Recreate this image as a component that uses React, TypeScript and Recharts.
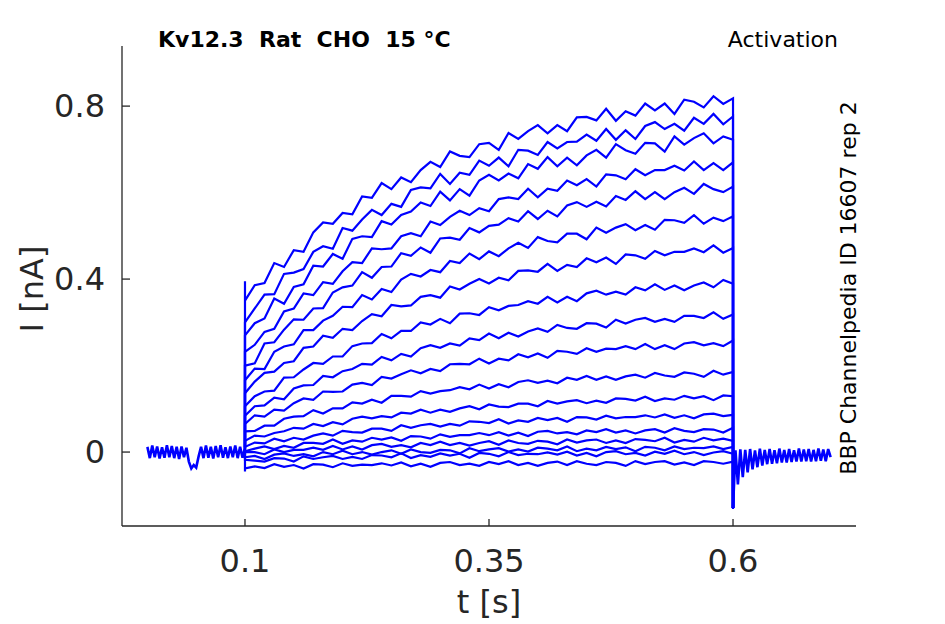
import { LineChart, Line, XAxis, YAxis } from "recharts";

// time bases (s)
const PRE_T = [0, 0.0025, 0.005, 0.0075, 0.01, 0.0125, 0.015, 0.0175, 0.02, 0.0225, 0.025, 0.0275, 0.03, 0.0325, 0.035, 0.0375, 0.04, 0.0425, 0.045, 0.0475, 0.05, 0.0525, 0.055, 0.0575, 0.06, 0.0625, 0.065, 0.0675, 0.07, 0.0725, 0.075, 0.0775, 0.08, 0.0825, 0.085, 0.0875, 0.09, 0.0925, 0.095, 0.0975, 0.1];
const PULSE_T = [0.1, 0.11, 0.12, 0.13, 0.14, 0.15, 0.16, 0.17, 0.18, 0.19, 0.2, 0.21, 0.22, 0.23, 0.24, 0.25, 0.26, 0.27, 0.28, 0.29, 0.3, 0.31, 0.32, 0.33, 0.34, 0.35, 0.36, 0.37, 0.38, 0.39, 0.4, 0.41, 0.42, 0.43, 0.44, 0.45, 0.46, 0.47, 0.48, 0.49, 0.5, 0.51, 0.52, 0.53, 0.54, 0.55, 0.56, 0.57, 0.58, 0.59, 0.6];
const POST_T = [0.6, 0.6025, 0.605, 0.6075, 0.61, 0.6125, 0.615, 0.6175, 0.62, 0.6225, 0.625, 0.6275, 0.63, 0.6325, 0.635, 0.6375, 0.64, 0.6425, 0.645, 0.6475, 0.65, 0.6525, 0.655, 0.6575, 0.66, 0.6625, 0.665, 0.6675, 0.67, 0.6725, 0.675, 0.6775, 0.68, 0.6825, 0.685, 0.6875, 0.69, 0.6925, 0.695, 0.6975, 0.7];

// holding current before the step (all sweeps overlap), nA
const PRE_I = [0.012, -0.014, 0.015, -0.012, 0.013, -0.015, 0.011, -0.013, 0.016, -0.012, 0.014, -0.014, 0.012, -0.016, 0.013, -0.012, 0.01, -0.022, -0.038, -0.03, -0.036, -0.01, 0.012, -0.014, 0.015, -0.013, 0.012, -0.015, 0.014, -0.012, 0.016, -0.013, 0.011, -0.014, 0.013, -0.012, 0.015, -0.014, 0.012, -0.013, 0.01];

// tail current after the step, nA
const POST_I = [-0.13, 0.004, -0.075, 0.006, -0.058, 0.005, -0.047, 0.007, -0.04, 0.004, -0.035, 0.008, -0.031, 0.005, -0.028, 0.007, -0.027, 0.004, -0.026, 0.008, -0.024, 0.005, -0.024, 0.007, -0.023, 0.004, -0.022, 0.008, -0.022, 0.006, -0.021, 0.007, -0.022, 0.005, -0.021, 0.008, -0.02, 0.006, -0.021, 0.007, -0.012];

// capacitive transients at step onset
const ONSET_PEAK = 0.395;
const ONSET_DIP = -0.045;

// sweeps during the step, largest first, nA
const SWEEP_1 = [0.35, 0.386, 0.391, 0.437, 0.428, 0.467, 0.463, 0.508, 0.531, 0.528, 0.553, 0.55, 0.591, 0.588, 0.622, 0.608, 0.635, 0.624, 0.652, 0.671, 0.659, 0.695, 0.685, 0.682, 0.712, 0.715, 0.699, 0.738, 0.724, 0.742, 0.756, 0.737, 0.756, 0.742, 0.774, 0.775, 0.767, 0.794, 0.766, 0.788, 0.778, 0.806, 0.79, 0.806, 0.782, 0.815, 0.81, 0.797, 0.823, 0.805, 0.818];
const SWEEP_2 = [0.3, 0.332, 0.364, 0.365, 0.412, 0.415, 0.423, 0.463, 0.476, 0.47, 0.518, 0.512, 0.538, 0.56, 0.548, 0.574, 0.567, 0.606, 0.612, 0.61, 0.643, 0.62, 0.646, 0.641, 0.674, 0.662, 0.681, 0.661, 0.699, 0.697, 0.687, 0.717, 0.702, 0.717, 0.718, 0.734, 0.72, 0.747, 0.722, 0.744, 0.724, 0.754, 0.763, 0.747, 0.759, 0.743, 0.773, 0.759, 0.782, 0.758, 0.776];
const SWEEP_3 = [0.27, 0.298, 0.309, 0.355, 0.343, 0.382, 0.388, 0.431, 0.429, 0.458, 0.447, 0.493, 0.499, 0.497, 0.534, 0.526, 0.548, 0.556, 0.577, 0.569, 0.602, 0.582, 0.608, 0.593, 0.628, 0.641, 0.628, 0.644, 0.633, 0.666, 0.655, 0.682, 0.661, 0.681, 0.663, 0.686, 0.699, 0.681, 0.712, 0.698, 0.69, 0.715, 0.714, 0.695, 0.73, 0.711, 0.726, 0.737, 0.714, 0.73, 0.722];
const SWEEP_4 = [0.232, 0.248, 0.278, 0.285, 0.325, 0.332, 0.367, 0.363, 0.393, 0.389, 0.418, 0.439, 0.437, 0.471, 0.469, 0.471, 0.499, 0.506, 0.499, 0.533, 0.525, 0.544, 0.558, 0.548, 0.564, 0.557, 0.585, 0.589, 0.585, 0.609, 0.589, 0.609, 0.604, 0.628, 0.617, 0.631, 0.614, 0.642, 0.64, 0.631, 0.654, 0.64, 0.652, 0.652, 0.662, 0.651, 0.672, 0.652, 0.668, 0.652, 0.67];
const SWEEP_5 = [0.2, 0.205, 0.251, 0.254, 0.283, 0.307, 0.306, 0.332, 0.333, 0.369, 0.381, 0.385, 0.416, 0.403, 0.428, 0.429, 0.46, 0.454, 0.473, 0.461, 0.494, 0.496, 0.491, 0.518, 0.508, 0.523, 0.526, 0.541, 0.533, 0.557, 0.539, 0.558, 0.545, 0.57, 0.578, 0.567, 0.579, 0.568, 0.592, 0.583, 0.603, 0.585, 0.601, 0.585, 0.601, 0.611, 0.597, 0.62, 0.608, 0.601, 0.614];
const SWEEP_6 = [0.166, 0.193, 0.192, 0.232, 0.244, 0.249, 0.282, 0.282, 0.304, 0.315, 0.336, 0.335, 0.363, 0.353, 0.377, 0.37, 0.399, 0.412, 0.406, 0.421, 0.416, 0.442, 0.437, 0.459, 0.446, 0.464, 0.453, 0.471, 0.484, 0.472, 0.497, 0.488, 0.485, 0.505, 0.505, 0.492, 0.519, 0.507, 0.519, 0.527, 0.513, 0.525, 0.514, 0.537, 0.536, 0.53, 0.548, 0.528, 0.542, 0.534, 0.545];
const SWEEP_7 = [0.136, 0.163, 0.183, 0.186, 0.206, 0.21, 0.241, 0.244, 0.269, 0.264, 0.285, 0.282, 0.303, 0.319, 0.314, 0.34, 0.337, 0.339, 0.359, 0.363, 0.357, 0.383, 0.376, 0.389, 0.4, 0.39, 0.403, 0.397, 0.419, 0.42, 0.417, 0.435, 0.419, 0.433, 0.428, 0.448, 0.439, 0.45, 0.435, 0.457, 0.455, 0.447, 0.465, 0.455, 0.463, 0.463, 0.471, 0.462, 0.478, 0.461, 0.472];
const SWEEP_8 = [0.106, 0.129, 0.14, 0.142, 0.172, 0.173, 0.191, 0.206, 0.204, 0.221, 0.221, 0.245, 0.251, 0.252, 0.273, 0.263, 0.28, 0.28, 0.3, 0.295, 0.308, 0.298, 0.32, 0.321, 0.317, 0.335, 0.328, 0.338, 0.34, 0.349, 0.343, 0.359, 0.346, 0.359, 0.349, 0.367, 0.373, 0.364, 0.371, 0.364, 0.381, 0.374, 0.388, 0.375, 0.385, 0.374, 0.385, 0.392, 0.381, 0.398, 0.389];
const SWEEP_9 = [0.084, 0.106, 0.108, 0.126, 0.122, 0.147, 0.154, 0.155, 0.176, 0.173, 0.187, 0.192, 0.204, 0.202, 0.22, 0.212, 0.227, 0.221, 0.24, 0.247, 0.241, 0.251, 0.246, 0.263, 0.259, 0.274, 0.263, 0.276, 0.267, 0.279, 0.286, 0.278, 0.294, 0.287, 0.285, 0.298, 0.297, 0.288, 0.306, 0.297, 0.306, 0.31, 0.301, 0.308, 0.301, 0.315, 0.315, 0.31, 0.323, 0.308, 0.318];
const SWEEP_10 = [0.065, 0.085, 0.082, 0.098, 0.096, 0.113, 0.124, 0.121, 0.14, 0.139, 0.14, 0.156, 0.16, 0.155, 0.174, 0.17, 0.18, 0.189, 0.182, 0.192, 0.187, 0.203, 0.204, 0.203, 0.216, 0.205, 0.216, 0.212, 0.226, 0.219, 0.228, 0.218, 0.234, 0.232, 0.227, 0.24, 0.232, 0.239, 0.238, 0.245, 0.238, 0.25, 0.238, 0.247, 0.238, 0.251, 0.254, 0.247, 0.252, 0.245, 0.258];
const SWEEP_11 = [0.048, 0.049, 0.061, 0.061, 0.077, 0.082, 0.083, 0.097, 0.089, 0.101, 0.101, 0.115, 0.112, 0.121, 0.114, 0.13, 0.13, 0.128, 0.141, 0.135, 0.141, 0.143, 0.15, 0.145, 0.156, 0.147, 0.157, 0.15, 0.162, 0.166, 0.16, 0.165, 0.159, 0.172, 0.167, 0.176, 0.167, 0.175, 0.167, 0.175, 0.179, 0.172, 0.183, 0.177, 0.174, 0.184, 0.181, 0.174, 0.188, 0.179, 0.185];
const SWEEP_12 = [0.026, 0.038, 0.036, 0.044, 0.048, 0.056, 0.054, 0.065, 0.06, 0.069, 0.064, 0.077, 0.082, 0.078, 0.083, 0.08, 0.091, 0.089, 0.098, 0.091, 0.098, 0.093, 0.101, 0.106, 0.099, 0.11, 0.105, 0.104, 0.112, 0.112, 0.106, 0.118, 0.112, 0.117, 0.12, 0.113, 0.119, 0.114, 0.124, 0.123, 0.119, 0.128, 0.118, 0.124, 0.121, 0.13, 0.124, 0.129, 0.12, 0.131, 0.129];
const SWEEP_13 = [0.012, 0.022, 0.02, 0.031, 0.025, 0.033, 0.029, 0.038, 0.043, 0.038, 0.049, 0.046, 0.045, 0.054, 0.054, 0.049, 0.062, 0.056, 0.062, 0.065, 0.059, 0.065, 0.061, 0.071, 0.07, 0.067, 0.076, 0.066, 0.073, 0.07, 0.079, 0.074, 0.079, 0.07, 0.081, 0.08, 0.075, 0.084, 0.078, 0.081, 0.081, 0.085, 0.08, 0.087, 0.079, 0.085, 0.078, 0.087, 0.089, 0.083, 0.086];
const SWEEP_14 = [0.002, 0.008, 0.013, 0.007, 0.014, 0.01, 0.021, 0.021, 0.019, 0.029, 0.019, 0.027, 0.024, 0.033, 0.029, 0.034, 0.026, 0.037, 0.036, 0.031, 0.041, 0.035, 0.039, 0.039, 0.044, 0.039, 0.046, 0.038, 0.045, 0.037, 0.047, 0.049, 0.043, 0.046, 0.041, 0.05, 0.046, 0.053, 0.045, 0.05, 0.043, 0.05, 0.053, 0.045, 0.055, 0.049, 0.046, 0.053, 0.052, 0.045, 0.056];
const SWEEP_15 = [0.0, 0.0, -0.005, 0.006, 0.0, 0.005, 0.005, 0.01, 0.005, 0.014, 0.006, 0.013, 0.006, 0.016, 0.019, 0.012, 0.016, 0.011, 0.021, 0.016, 0.024, 0.016, 0.021, 0.015, 0.021, 0.025, 0.017, 0.027, 0.021, 0.019, 0.026, 0.024, 0.018, 0.029, 0.022, 0.027, 0.029, 0.021, 0.027, 0.021, 0.03, 0.028, 0.025, 0.033, 0.022, 0.028, 0.024, 0.033, 0.027, 0.031, 0.026];
const SWEEP_16 = [-0.012, -0.009, -0.016, -0.006, -0.003, -0.009, -0.005, -0.01, 0.0, -0.005, 0.003, -0.005, 0.0, -0.006, 0.0, 0.004, -0.004, 0.006, 0.0, -0.002, 0.005, 0.004, -0.003, 0.009, 0.002, 0.006, 0.009, 0.001, 0.006, 0.001, 0.01, 0.008, 0.004, 0.013, 0.002, 0.008, 0.004, 0.012, 0.007, 0.011, 0.002, 0.012, 0.01, 0.004, 0.013, 0.007, 0.01, 0.009, 0.013, 0.007, 0.012];
const SWEEP_17 = [-0.018, -0.02, -0.022, -0.014, -0.015, -0.022, -0.01, -0.016, -0.012, -0.009, -0.016, -0.011, -0.016, -0.007, -0.008, -0.012, -0.003, -0.014, -0.007, -0.011, -0.003, -0.008, -0.004, -0.013, -0.002, -0.004, -0.01, 0.0, -0.007, -0.004, -0.005, -0.001, -0.006, 0.001, -0.008, -0.002, -0.01, 0.0, 0.002, -0.005, -0.002, -0.008, 0.001, -0.004, 0.003, -0.005, 0.0, -0.007, -0.001, 0.002, -0.004];
const SWEEP_18 = [-0.038, -0.033, -0.037, -0.028, -0.034, -0.03, -0.038, -0.028, -0.029, -0.035, -0.026, -0.032, -0.029, -0.03, -0.026, -0.031, -0.024, -0.033, -0.027, -0.034, -0.025, -0.023, -0.03, -0.027, -0.032, -0.023, -0.028, -0.021, -0.03, -0.025, -0.032, -0.025, -0.022, -0.03, -0.021, -0.027, -0.03, -0.023, -0.025, -0.032, -0.021, -0.028, -0.023, -0.021, -0.029, -0.024, -0.03, -0.021, -0.023, -0.027, -0.022];

const SWEEPS = [SWEEP_1, SWEEP_2, SWEEP_3, SWEEP_4, SWEEP_5, SWEEP_6, SWEEP_7, SWEEP_8, SWEEP_9, SWEEP_10, SWEEP_11, SWEEP_12, SWEEP_13, SWEEP_14, SWEEP_15, SWEEP_16, SWEEP_17, SWEEP_18];

const X_TICKS = [0.1, 0.35, 0.6];
const Y_TICKS = [0, 0.4, 0.8];

const BLUE = "#0000ff";
const AXIS = "#262626";
const FONT = "DejaVu Sans";

const preData = PRE_T.map((t, i) => ({ t, v: PRE_I[i] }));
const postData = POST_T.map((t, i) => ({ t, v: POST_I[i] }));

const sweepData = SWEEPS.map((vals, k) => {
  const t0 = PULSE_T[0];
  const pts = [{ t: t0, v: PRE_I[PRE_I.length - 1] }];
  if (k === 0) pts.push({ t: t0, v: ONSET_PEAK });
  if (k === SWEEPS.length - 1) pts.push({ t: t0, v: ONSET_DIP });
  vals.slice(0, PULSE_T.length).forEach((v, i) => pts.push({ t: PULSE_T[i], v }));
  pts.push({ t: PULSE_T[PULSE_T.length - 1], v: POST_I[0] });
  return pts;
});

export default function App() {
  return (
    <div style={{ position: "absolute", left: 0, top: 0, width: 945, height: 624, background: "#fff" }}>
      {/* axes need a non-zero box, so 1px width/height with the margin reduced by the same */}
      <LineChart width={945} height={624} margin={{ top: 46, right: 89, bottom: 97, left: 121 }}>
        <XAxis
          type="number"
          dataKey="t"
          domain={[-0.026, 0.726]}
          ticks={X_TICKS}
          interval={0}
          allowDataOverflow
          height={1}
          tickSize={-7}
          tickMargin={30}
          axisLine={{ stroke: AXIS, strokeWidth: 1.3 }}
          tickLine={{ stroke: AXIS, strokeWidth: 1.3 }}
          tick={{ fill: AXIS, fontSize: 32, fontFamily: FONT }}
        />
        <YAxis
          type="number"
          domain={[-0.171, 0.939]}
          ticks={Y_TICKS}
          interval={0}
          allowDataOverflow
          width={1}
          tickSize={-8}
          tickMargin={25}
          axisLine={{ stroke: AXIS, strokeWidth: 1.3 }}
          tickLine={{ stroke: AXIS, strokeWidth: 1.3 }}
          tick={{ fill: AXIS, fontSize: 32, fontFamily: FONT }}
        />
        <Line data={preData} dataKey="v" type="linear" stroke={BLUE} strokeWidth={2.6} dot={false} activeDot={false} isAnimationActive={false} />
        {sweepData.map((d, k) => (
          <Line key={`sweep-${k}`} data={d} dataKey="v" type="linear" stroke={BLUE} strokeWidth={2.2} dot={false} activeDot={false} isAnimationActive={false} />
        ))}
        <Line data={postData} dataKey="v" type="linear" stroke={BLUE} strokeWidth={2.6} dot={false} activeDot={false} isAnimationActive={false} />
      </LineChart>
      <svg width={945} height={624} style={{ position: "absolute", left: 0, top: 0, pointerEvents: "none" }}>
        <text x={158} y={47} fontFamily={FONT} fontSize={22} fontWeight="bold" fill="#000" style={{ whiteSpace: "pre" }}>
          {"Kv12.3  Rat  CHO  15 °C"}
        </text>
        <text x={838} y={47} fontFamily={FONT} fontSize={22} fill="#000" textAnchor="end">
          Activation
        </text>
        <text x={856} y={288} fontFamily={FONT} fontSize={22} fill="#000" textAnchor="middle" transform="rotate(-90 856 288)">
          BBP Channelpedia ID 16607 rep 2
        </text>
        <text x={43} y={289} fontFamily={FONT} fontSize={32} fill={AXIS} textAnchor="middle" transform="rotate(-90 43 289)">
          I [nA]
        </text>
        <text x={489} y={613} fontFamily={FONT} fontSize={32} fill={AXIS} textAnchor="middle">
          t [s]
        </text>
      </svg>
    </div>
  );
}
